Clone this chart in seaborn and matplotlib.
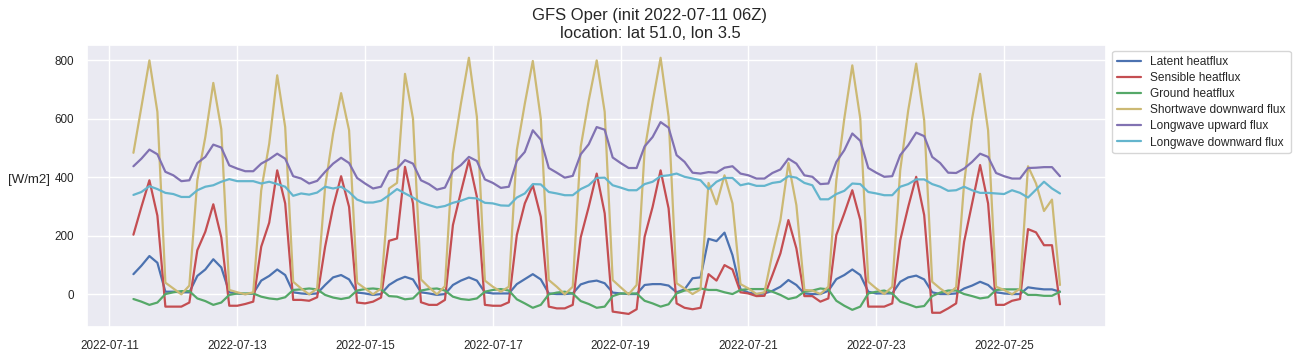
import pandas as pd
import numpy as np
import matplotlib
matplotlib.use("Agg")
import matplotlib.pyplot as plt
import seaborn as sns

# GFS 3-hourly output, first step +3h after init 06Z
times = pd.date_range("2022-07-11 09:00", periods=117, freq="3h")

latent = [69, 98, 131, 108, 9, 9, 7, 7,
          63, 85, 120, 92, 7, 3, 1, 3,
          47, 63, 85, 66, 7, 3, 1, 3,
          32, 58, 66, 51, 6, 3, -2, 1,
          32, 49, 60, 51, 7, 3, -2, 1,
          32, 47, 58, 47, 7, 3, 3, 3,
          35, 52, 69, 51, 3, 1, 1, 3,
          34, 43, 47, 38, 6, 3, 1, 1,
          32, 35, 35, 30, 7, 17, 55, 58,
          190, 182, 211, 134, 17, 6, 1, 3,
          12, 26, 49, 32, 3, 1, 1, 12,
          52, 66, 85, 66, 9, 3, 3, 3,
          43, 58, 64, 51, 7, 1, 1, 3,
          20, 30, 43, 32, 7, 3, 1, 1,
          24, 20, 17, 17, 9]

sensible = [204, 299, 390, 269, -42, -42, -42, -28,
            151, 214, 308, 195, -39, -39, -33, -25,
            163, 245, 424, 311, -19, -19, -22, -10,
            163, 299, 404, 299, -28, -31, -25, -11,
            183, 191, 436, 311, -27, -36, -36, -19,
            237, 350, 459, 333, -36, -39, -39, -27,
            203, 311, 373, 265, -42, -48, -48, -36,
            195, 299, 413, 277, -59, -63, -67, -51,
            197, 299, 424, 294, -31, -46, -51, -46,
            69, 47, 100, 85, 7, 3, -6, -5,
            66, 140, 254, 157, -6, -6, -25, -14,
            203, 277, 356, 254, -42, -42, -42, -31,
            185, 299, 402, 271, -63, -63, -48, -31,
            180, 311, 442, 311, -36, -36, -22, -16,
            223, 212, 168, 168, -34]

ground = [-16, -25, -36, -28, 1, 7, 11, 11,
          -14, -23, -36, -28, -2, 3, 3, 3,
          -8, -14, -17, -10, 15, 17, 20, 17,
          -2, -11, -16, -11, 13, 18, 20, 17,
          -6, -8, -17, -14, 13, 18, 20, 13,
          -8, -16, -19, -14, 9, 15, 18, 13,
          -17, -31, -46, -36, 0, 6, 9, 3,
          -23, -33, -46, -42, -6, 3, 3, 3,
          -22, -31, -42, -34, 3, 13, 17, 20,
          15, 15, 7, 1, 15, 18, 18, 18,
          9, -2, -16, -10, 9, 13, 20, 17,
          -22, -39, -53, -42, 3, 9, 13, 3,
          -25, -34, -44, -40, -6, 6, 13, 13,
          1, -6, -14, -10, 15, 17, 17, 17,
          -2, -2, -5, -5, 9]

sw_down = [484, 641, 800, 624, 40, 20, 0, 30,
           390, 538, 723, 565, 15, 7, 0, 7,
           356, 515, 749, 572, 43, 20, 0, 20,
           368, 550, 688, 561, 40, 20, 0, 20,
           362, 381, 754, 601, 51, 24, 0, 28,
           481, 652, 809, 607, 47, 26, 9, 26,
           493, 652, 798, 601, 49, 26, 0, 26,
           504, 663, 800, 624, 49, 24, 0, 32,
           493, 658, 809, 607, 38, 20, 1, 17,
           381, 308, 407, 311, 35, 20, 1, 7,
           140, 254, 449, 305, 15, 13, 1, 26,
           390, 601, 783, 601, 43, 20, 1, 26,
           424, 629, 789, 595, 43, 20, 1, 24,
           380, 601, 754, 561, 26, 15, 0, 20,
           438, 379, 285, 324, 32]

lw_up = [438, 464, 495, 479, 419, 407, 387, 390,
         449, 470, 512, 502, 441, 430, 421, 421,
         447, 462, 481, 464, 404, 396, 379, 388,
         419, 447, 467, 449, 398, 379, 362, 368,
         421, 430, 459, 447, 390, 377, 358, 365,
         422, 442, 470, 456, 393, 381, 364, 368,
         456, 487, 561, 529, 432, 416, 399, 405,
         479, 513, 572, 563, 468, 449, 432, 432,
         506, 538, 589, 570, 476, 453, 416, 413,
         418, 416, 433, 438, 413, 407, 396, 396,
         415, 427, 464, 447, 407, 402, 377, 379,
         453, 493, 550, 525, 432, 416, 402, 404,
         476, 510, 553, 541, 470, 449, 416, 415,
         430, 453, 481, 470, 415, 404, 396, 396,
         432, 433, 435, 435, 404]

lw_down = [340, 350, 370, 360, 347, 343, 333, 333,
           356, 368, 373, 385, 394, 387, 387, 387,
           379, 385, 377, 368, 337, 345, 341, 348,
           368, 362, 368, 350, 324, 314, 314, 320,
           339, 360, 345, 331, 314, 305, 297, 302,
           313, 320, 330, 328, 313, 311, 304, 303,
           331, 345, 377, 376, 350, 345, 339, 339,
           360, 373, 398, 399, 373, 365, 356, 356,
           377, 385, 404, 407, 413, 402, 396, 390,
           360, 385, 398, 398, 373, 379, 371, 371,
           381, 385, 404, 399, 381, 373, 325, 325,
           343, 354, 379, 377, 350, 345, 339, 339,
           368, 377, 393, 393, 377, 368, 354, 356,
           368, 356, 347, 347, 345, 343, 356, 347,
           331, 358, 385, 362, 345]

labels = ["Latent heatflux", "Sensible heatflux", "Ground heatflux",
          "Shortwave downward flux", "Longwave upward flux", "Longwave downward flux"]
colors = ["#4C72B0", "#C44E52", "#55A868", "#CCB974", "#8172B2", "#64B5CD"]

df = pd.DataFrame({"time": times,
                   labels[0]: latent, labels[1]: sensible, labels[2]: ground,
                   labels[3]: sw_down, labels[4]: lw_up, labels[5]: lw_down})
df_long = df.melt(id_vars="time", var_name="flux", value_name="value")

sns.set_theme(style="darkgrid")
plt.rcParams["font.family"] = ["Liberation Sans", "DejaVu Sans"]

fig, ax = plt.subplots(figsize=(13, 3.54), dpi=100)
fig.subplots_adjust(left=0.067, right=0.851, top=0.873, bottom=0.077)

sns.lineplot(data=df_long, x="time", y="value", hue="flux", hue_order=labels,
             palette=colors, linewidth=1.6, ax=ax)

fig.suptitle("GFS Oper (init 2022-07-11 06Z)\nlocation: lat 51.0, lon 3.5",
             fontsize=12, y=0.977)
ax.set_xlabel("")
ax.set_ylabel("[W/m2]", rotation=0, fontsize=9.5, ha="right", labelpad=3)
ax.tick_params(labelsize=8.4)

h, l = ax.get_legend_handles_labels()
ax.legend(h, l, loc="upper left", bbox_to_anchor=(1.0, 1.0), fontsize=8.6,
          labelspacing=0.35, facecolor="white", frameon=True)

plt.savefig("out.png", dpi=100)
